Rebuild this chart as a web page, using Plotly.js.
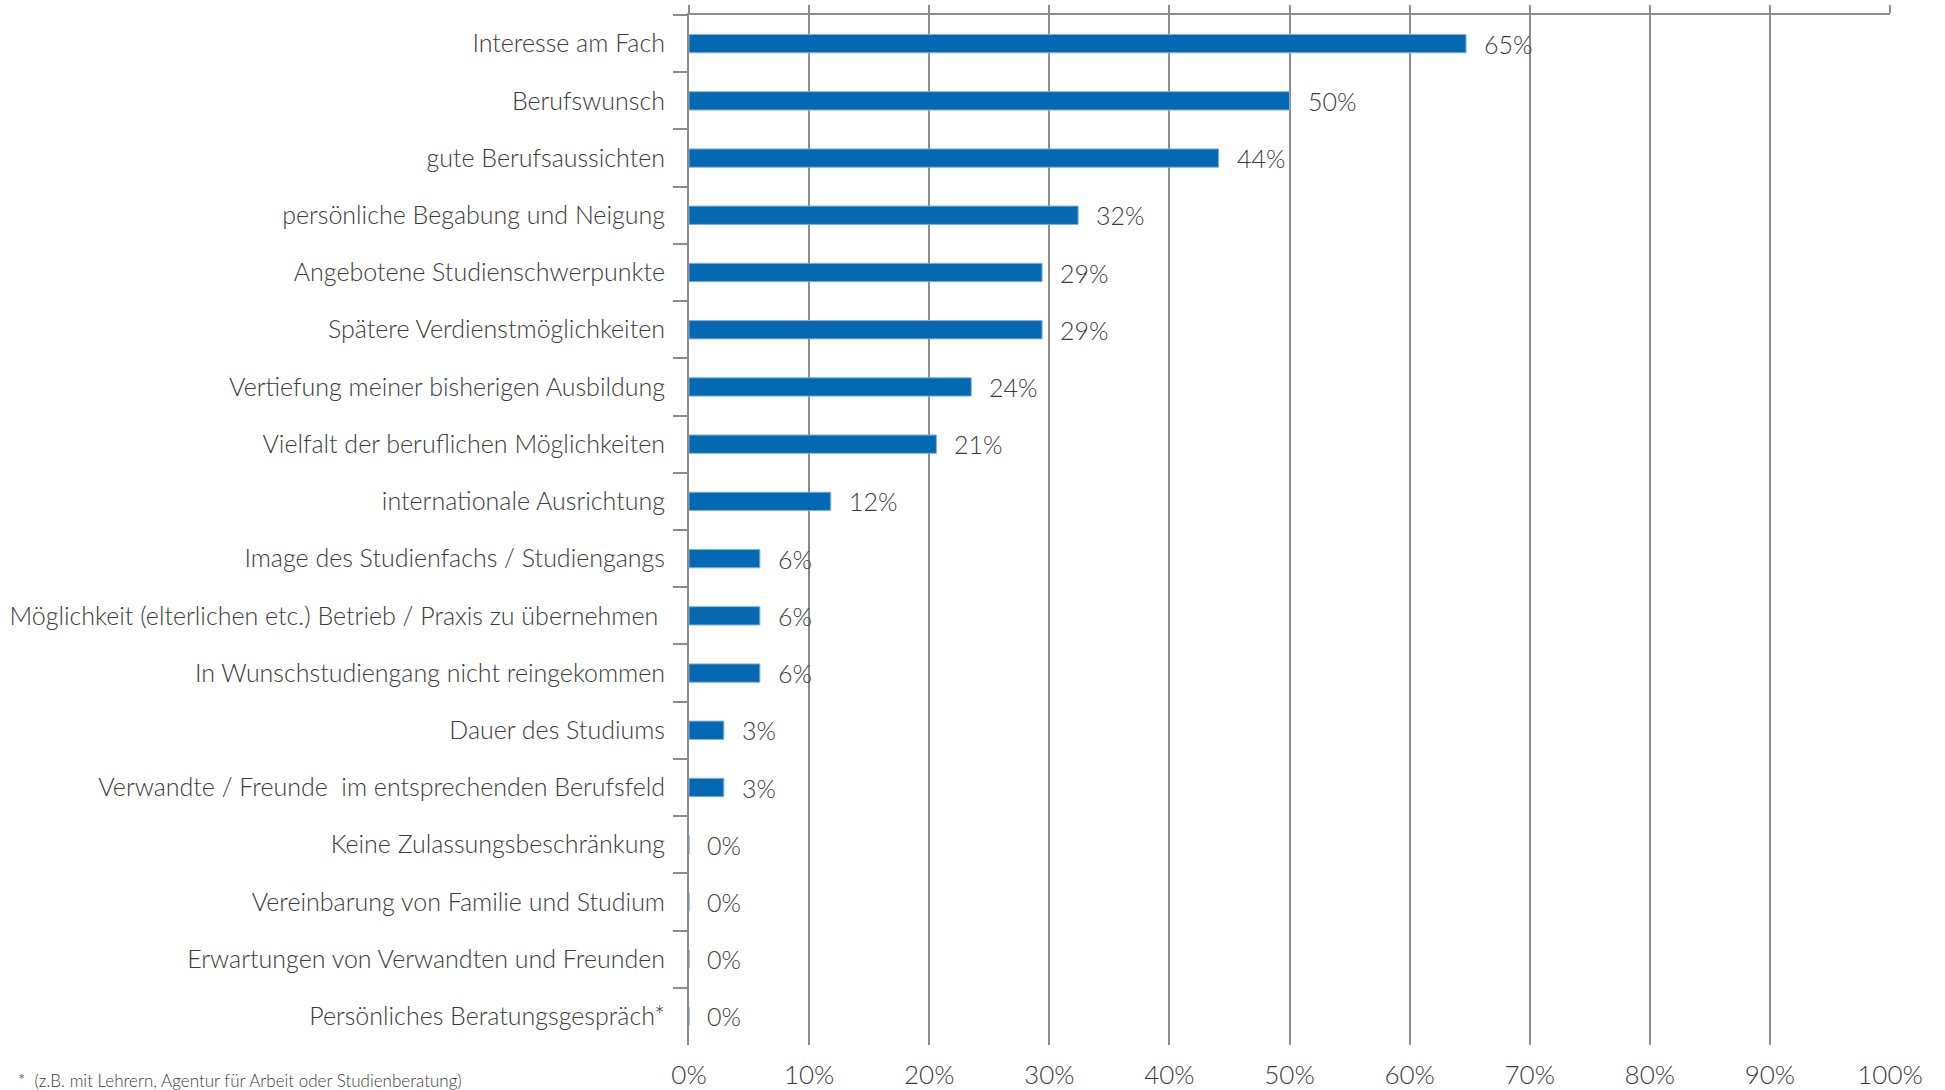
<!DOCTYPE html>
<html>
<head>
<meta charset="utf-8">
<script src="https://cdn.plot.ly/plotly-3.0.1.min.js"></script>
<style>html,body{margin:0;padding:0;background:#fff;}#chart{width:1945px;height:1090px;}</style>
</head>
<body>
<div id="chart"></div>
<script>
const categories = [
  "Interesse am Fach",
  "Berufswunsch",
  "gute Berufsaussichten",
  "persönliche Begabung und Neigung",
  "Angebotene Studienschwerpunkte",
  "Spätere Verdienstmöglichkeiten",
  "Vertiefung meiner bisherigen Ausbildung",
  "Vielfalt der beruflichen Möglichkeiten",
  "internationale Ausrichtung",
  "Image des Studienfachs / Studiengangs",
  "Möglichkeit (elterlichen etc.) Betrieb / Praxis zu übernehmen ",
  "In Wunschstudiengang nicht reingekommen",
  "Dauer des Studiums",
  "Verwandte / Freunde  im entsprechenden Berufsfeld",
  "Keine Zulassungsbeschränkung",
  "Vereinbarung von Familie und Studium",
  "Erwartungen von Verwandten und Freunden",
  "Persönliches Beratungsgespräch*"
];
const values = [64.7, 50.0, 44.1, 32.4, 29.4, 29.4, 23.5, 20.6, 11.8, 5.9, 5.9, 5.9, 2.9, 2.9, 0, 0, 0, 0];
const labels = ["65%", "50%", "44%", "32%", "29%", "29%", "24%", "21%", "12%", "6%", "6%", "6%", "3%", "3%", "0%", "0%", "0%", "0%"];
const xTicks = [0, 10, 20, 30, 40, 50, 60, 70, 80, 90, 100];
const xTickText = ["0%", "10%", "20%", "30%", "40%", "50%", "60%", "70%", "80%", "90%", "100%"];
const footnote = "*  (z.B. mit Lehrern, Agentur für Arbeit oder Studienberatung)";

const FONT = "Lato, 'Open Sans', sans-serif";
const TXT = "#3a3a3a";
const GRID = "#8c8c8c";

const traces = [
  {
    type: "bar", orientation: "h",
    x: values, y: categories,
    marker: {color: "#0568B3", line: {color: "#7fb0de", width: 1}},
    width: 0.32,
    hoverinfo: "skip",
    xaxis: "x", yaxis: "y"
  },
  {
    type: "scatter", mode: "markers",
    x: [0, 100], y: [categories[0], categories[0]],
    marker: {opacity: 0}, hoverinfo: "skip", showlegend: false,
    xaxis: "x2", yaxis: "y"
  }
];

const annotations = values.map((v, i) => ({
  x: v, y: categories[i], xref: "x", yref: "y",
  text: labels[i], showarrow: false, xanchor: "left", xshift: 16,
  font: {family: FONT, size: 25, color: TXT, weight: 300}
}));
annotations.push({
  x: 0, y: 0, xref: "paper", yref: "paper", xanchor: "left", yanchor: "top",
  xshift: -673, yshift: -23,
  text: footnote, showarrow: false,
  font: {family: FONT, size: 17, color: TXT, weight: 300}
});

const layout = {
  width: 1945, height: 1090,
  margin: {l: 689, r: 55, t: 15, b: 45},
  paper_bgcolor: "#fff", plot_bgcolor: "#fff",
  showlegend: false,
  bargap: 0.68,
  font: {family: FONT, color: TXT},
  xaxis: {
    range: [0, 100], tickvals: xTicks, ticktext: xTickText,
    showgrid: true, gridcolor: GRID, gridwidth: 2,
    zeroline: false, showline: false, ticks: "",
    ticklabelstandoff: 12,
    tickfont: {family: FONT, size: 26, color: TXT, weight: 300},
    fixedrange: true
  },
  xaxis2: {
    overlaying: "x", side: "top", range: [0, 100], tickvals: xTicks,
    showticklabels: false, showgrid: false, zeroline: false,
    showline: true, linecolor: GRID, linewidth: 2,
    ticks: "outside", ticklen: 8, tickcolor: GRID, tickwidth: 2,
    fixedrange: true
  },
  yaxis: {
    type: "category", autorange: false, range: [categories.length - 0.5, -0.5],
    showgrid: false, zeroline: false,
    showline: true, linecolor: GRID, linewidth: 2,
    ticks: "outside", tickson: "boundaries", ticklen: 14, tickcolor: GRID, tickwidth: 2,
    ticklabelstandoff: 17,
    tickfont: {family: FONT, size: 25, color: TXT, weight: 300},
    fixedrange: true
  },
  annotations: annotations
};

Plotly.newPlot("chart", traces, layout, {displayModeBar: false, staticPlot: true});
</script>
</body>
</html>
